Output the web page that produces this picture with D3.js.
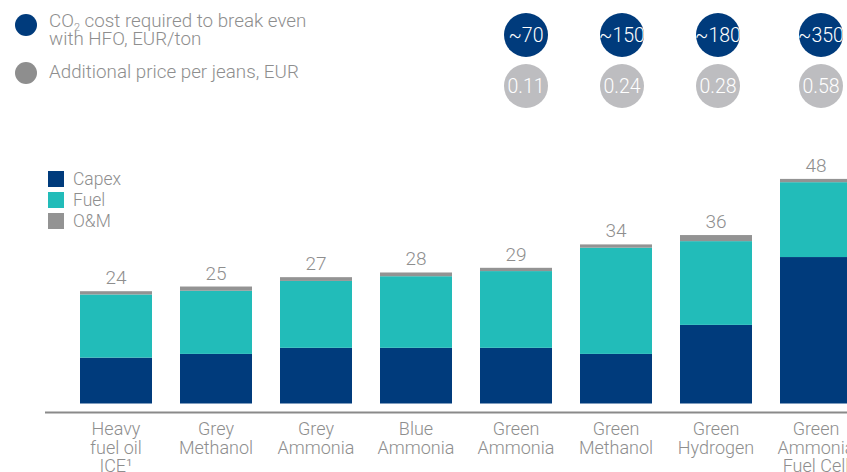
<!DOCTYPE html>
<html>
<head>
<meta charset="utf-8">
<script src="https://cdn.jsdelivr.net/npm/d3@7/dist/d3.min.js"></script>
<style>
  html, body { margin: 0; padding: 0; background: #ffffff; }
  svg { display: block; font-family: Roboto, "Liberation Sans", Arial, sans-serif; font-weight: 300; }
</style>
</head>
<body>
<svg id="chart" width="847" height="472"></svg>
<script>
// Propulsion options and their cost build-up (EUR)
const categories = [
  ["Heavy", "fuel oil", "ICE\u00B9"],
  ["Grey", "Methanol"],
  ["Grey", "Ammonia"],
  ["Blue", "Ammonia"],
  ["Green", "Ammonia"],
  ["Green", "Methanol"],
  ["Green", "Hydrogen"],
  ["Green", "Ammonia", "Fuel Cell"]
];
const capex = [9.8, 10.6, 11.9, 11.9, 11.9, 10.6, 16.8, 31.3];
const fuel  = [13.5, 13.5, 14.3, 15.3, 16.4, 22.7, 17.9, 16.0];
const om    = [0.7, 0.9, 0.8, 0.8, 0.7, 0.7, 1.3, 0.7];

// Badges shown over the green options
const badgeIndex = [4, 5, 6, 7];
const co2Cost    = ["~70", "~150", "~180", "~350"];
const jeansPrice = ["0.11", "0.24", "0.28", "0.58"];

const seriesNames = ["Capex", "Fuel", "O&M"];
const colors = { "Capex": "#003B7C", "Fuel": "#22BCB9", "O&M": "#939393" };
const textGrey = "#8E8E8E";

const svg = d3.select("#chart");

const x = d3.scaleBand()
  .domain(d3.range(categories.length))
  .range([66, 866])
  .paddingInner(0.28)
  .paddingOuter(0.14);

const y = d3.scaleLinear().domain([0, 48]).range([403.5, 178.9]);

const rows = categories.map((c, i) => ({ i, "Capex": capex[i], "Fuel": fuel[i], "O&M": om[i] }));
const stacked = d3.stack().keys(seriesNames)(rows);

// Stacked bars
svg.append("g").selectAll("g")
  .data(stacked)
  .join("g")
  .attr("fill", d => colors[d.key])
  .selectAll("rect")
  .data(d => d)
  .join("rect")
  .attr("x", d => x(d.data.i))
  .attr("width", x.bandwidth())
  .attr("y", d => y(d[1]))
  .attr("height", d => y(d[0]) - y(d[1]));

// Total labels above each bar
svg.append("g").selectAll("text")
  .data(rows)
  .join("text")
  .attr("x", d => x(d.i) + x.bandwidth() / 2)
  .attr("y", d => y(d["Capex"] + d["Fuel"] + d["O&M"]) - 7)
  .attr("text-anchor", "middle")
  .attr("font-size", 19)
  .attr("fill", textGrey)
  .text(d => Math.round(d["Capex"] + d["Fuel"] + d["O&M"]));

// Baseline
svg.append("line")
  .attr("x1", 45).attr("x2", 847)
  .attr("y1", 412.5).attr("y2", 412.5)
  .attr("stroke", "#8A8A8A")
  .attr("stroke-width", 2.2);

// Category labels
const catG = svg.append("g").selectAll("text")
  .data(categories)
  .join("text")
  .attr("x", (d, i) => x(i) + x.bandwidth() / 2)
  .attr("y", 435)
  .attr("text-anchor", "middle")
  .attr("font-size", 18)
  .attr("fill", textGrey);
catG.selectAll("tspan")
  .data((d, i) => d.map(line => ({ line, i })))
  .join("tspan")
  .attr("x", d => x(d.i) + x.bandwidth() / 2)
  .attr("dy", (d, j) => j === 0 ? 0 : 18.5)
  .text(d => d.line);

// Series legend
const leg = svg.append("g").selectAll("g")
  .data(seriesNames)
  .join("g")
  .attr("transform", (d, i) => `translate(48, ${171 + i * 21})`);
leg.append("rect").attr("width", 16).attr("height", 16).attr("fill", d => colors[d]);
leg.append("text")
  .attr("x", 25).attr("y", 14)
  .attr("font-size", 17.5)
  .attr("fill", textGrey)
  .text(d => d);

// Badge legend
const blue = "#003B7C", badgeGrey = "#BDBDC0";
svg.append("circle").attr("cx", 26).attr("cy", 25).attr("r", 11).attr("fill", blue);
svg.append("circle").attr("cx", 26).attr("cy", 73).attr("r", 11).attr("fill", "#8E8E8E");
const legendSize = 18.8;
const t1 = svg.append("text").attr("x", 49).attr("y", 27)
  .attr("font-size", legendSize).attr("fill", textGrey);
t1.append("tspan").text("CO");
t1.append("tspan").attr("font-size", 11).attr("dy", 4).text("2");
t1.append("tspan").attr("dy", -4).text(" cost required to break even");
svg.append("text").attr("x", 49).attr("y", 45)
  .attr("font-size", legendSize).attr("fill", textGrey)
  .text("with HFO, EUR/ton");
svg.append("text").attr("x", 49).attr("y", 78)
  .attr("font-size", legendSize).attr("fill", textGrey)
  .text("Additional price per jeans, EUR");

// Badges
const badgeOffset = [10, 6, 2, 5];
const badges = svg.append("g").selectAll("g")
  .data(badgeIndex.map((ci, k) => ({ ci, k })))
  .join("g")
  .attr("transform", d => `translate(${x(d.ci) + x.bandwidth() / 2 + badgeOffset[d.k]}, 0)`);
badges.append("circle").attr("cy", 35).attr("r", 22).attr("fill", blue);
badges.append("text").attr("y", 42).attr("text-anchor", "middle")
  .attr("font-size", 19.5).attr("fill", "#ffffff")
  .text(d => co2Cost[d.k]);
badges.append("circle").attr("cy", 86).attr("r", 22).attr("fill", badgeGrey);
badges.append("text").attr("y", 93).attr("text-anchor", "middle")
  .attr("font-size", 19.5).attr("fill", "#ffffff")
  .text(d => jeansPrice[d.k]);
</script>
</body>
</html>
